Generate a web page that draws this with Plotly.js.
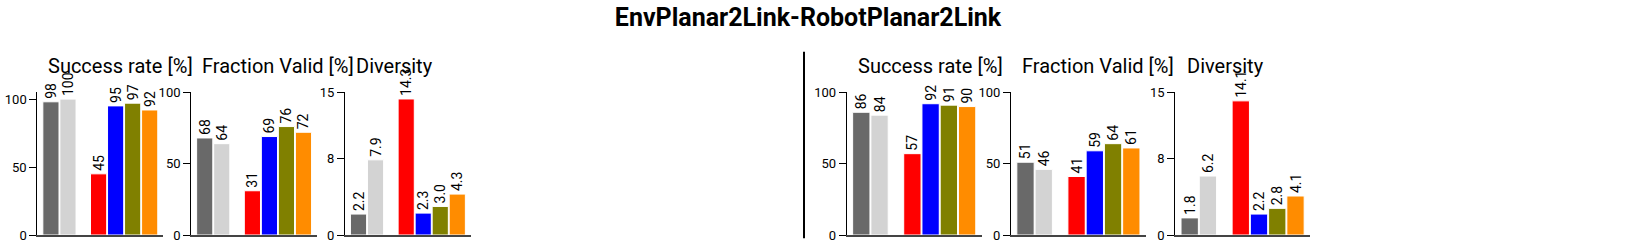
<!DOCTYPE html>
<html>
<head>
<meta charset="utf-8">
<script src="https://cdn.plot.ly/plotly-3.0.1.min.js"></script>
<style>html,body{margin:0;padding:0;background:#fff;}#chart{width:1644px;height:248px;}</style>
</head>
<body>
<div id="chart"></div>
<script>
// ---- data ----
const mainTitle = "EnvPlanar2Link-RobotPlanar2Link";
const methods = ["Baseline A", "Baseline B", "Method 1", "Method 2", "Method 3", "Method 4"];
const positions = [0, 1, 2.8, 3.8, 4.8, 5.8];
const barColors = ["#696969", "#d3d3d3", "#ff0000", "#0000ff", "#808000", "#ff8c00"];
const panelTitles = ["Success rate [%]", "Fraction Valid [%]", "Diversity"];

const leftSuccess = [98, 100, 45, 95, 97, 92];
const leftValid = [68, 64, 31, 69, 76, 72];
const leftDiversity = [2.2, 7.9, 14.3, 2.3, 3.0, 4.3];

const rightSuccess = [86, 84, 57, 92, 91, 90];
const rightValid = [51, 46, 41, 59, 64, 61];
const rightDiversity = [1.8, 6.2, 14.1, 2.2, 2.8, 4.1];

const yRanges = [[0, 105], [0, 100], [0, 15], [0, 100], [0, 100], [0, 15]];
const yTicks = [[0, 50, 100], [0, 50, 100], [0, 8, 15], [0, 50, 100], [0, 50, 100], [0, 8, 15]];

// ---- layout geometry (pixels) ----
const W = 1644, H = 248;
const axisLeft = [37.3, 191.1, 344.9, 846.7, 1010.9, 1175.1];
const axisWidth = [126, 126, 126, 135, 135, 135];
const plotTop = 92.3, plotBottom = 235;

const panels = [
  {vals: leftSuccess, fmt: "%{y:.0f}", title: panelTitles[0]},
  {vals: leftValid, fmt: "%{y:.0f}", title: panelTitles[1]},
  {vals: leftDiversity, fmt: "%{y:.1f}", title: panelTitles[2]},
  {vals: rightSuccess, fmt: "%{y:.0f}", title: panelTitles[0]},
  {vals: rightValid, fmt: "%{y:.0f}", title: panelTitles[1]},
  {vals: rightDiversity, fmt: "%{y:.1f}", title: panelTitles[2]}
];

const FONT = "Roboto, 'Liberation Sans', Arial, sans-serif";
const traces = [];
const layout = {
  width: W, height: H, autosize: false,
  margin: {l: 0, r: 0, t: 0, b: 0, pad: 0},
  paper_bgcolor: "#fff", plot_bgcolor: "rgba(0,0,0,0)",
  showlegend: false,
  font: {family: FONT, size: 12, color: "#000"},
  title: {
    text: mainTitle, x: 808 / W, xanchor: "center",
    y: 1 - 17.5 / H, yanchor: "middle",
    font: {family: FONT, size: 25, weight: 700, color: "#000"}
  },
  annotations: [],
  shapes: [{
    type: "line", xref: "paper", yref: "paper",
    x0: 804 / W, x1: 804 / W, y0: (H - 238.3) / H, y1: (H - 51.7) / H,
    line: {color: "#000", width: 2}
  }]
};

panels.forEach((p, i) => {
  const k = i === 0 ? "" : String(i + 1);
  traces.push({
    type: "bar", x: positions, y: p.vals, width: 0.95,
    xaxis: "x" + k, yaxis: "y" + k,
    marker: {color: barColors, line: {color: "#fff", width: 1}},
    texttemplate: p.fmt, textposition: "outside", textangle: -90,
    constraintext: "none",
    textfont: {family: FONT, size: 14, color: "#000"},
    cliponaxis: false, hoverinfo: "skip", name: p.title
  });
  const x0 = axisLeft[i] / W, x1 = (axisLeft[i] + axisWidth[i]) / W;
  layout["xaxis" + k] = {
    domain: [x0, x1], range: [-0.8, 6.6], anchor: "y" + k,
    showticklabels: false, ticks: "", showgrid: false, zeroline: false,
    showline: true, linecolor: "#444", linewidth: 2, fixedrange: true
  };
  layout["yaxis" + k] = {
    domain: [(H - plotBottom) / H, (H - plotTop) / H], anchor: "x" + k,
    range: yRanges[i], tickmode: "array", tickvals: yTicks[i],
    ticks: "outside", ticklen: 7, tickcolor: "#000", tickwidth: 1,
    showline: true, linecolor: "#000", linewidth: 1,
    showgrid: false, zeroline: false, fixedrange: true,
    tickfont: {family: FONT, size: 13, color: "#000"}
  };
  layout.annotations.push({
    text: p.title, xref: "x" + k + " domain", x: 0.1, xanchor: "left", xshift: -4,
    yref: "paper", y: (H - 66) / H, yanchor: "middle", showarrow: false,
    font: {family: FONT, size: 20, color: "#000"}
  });
});

Plotly.newPlot("chart", traces, layout, {staticPlot: true, displayModeBar: false});
</script>
</body>
</html>
